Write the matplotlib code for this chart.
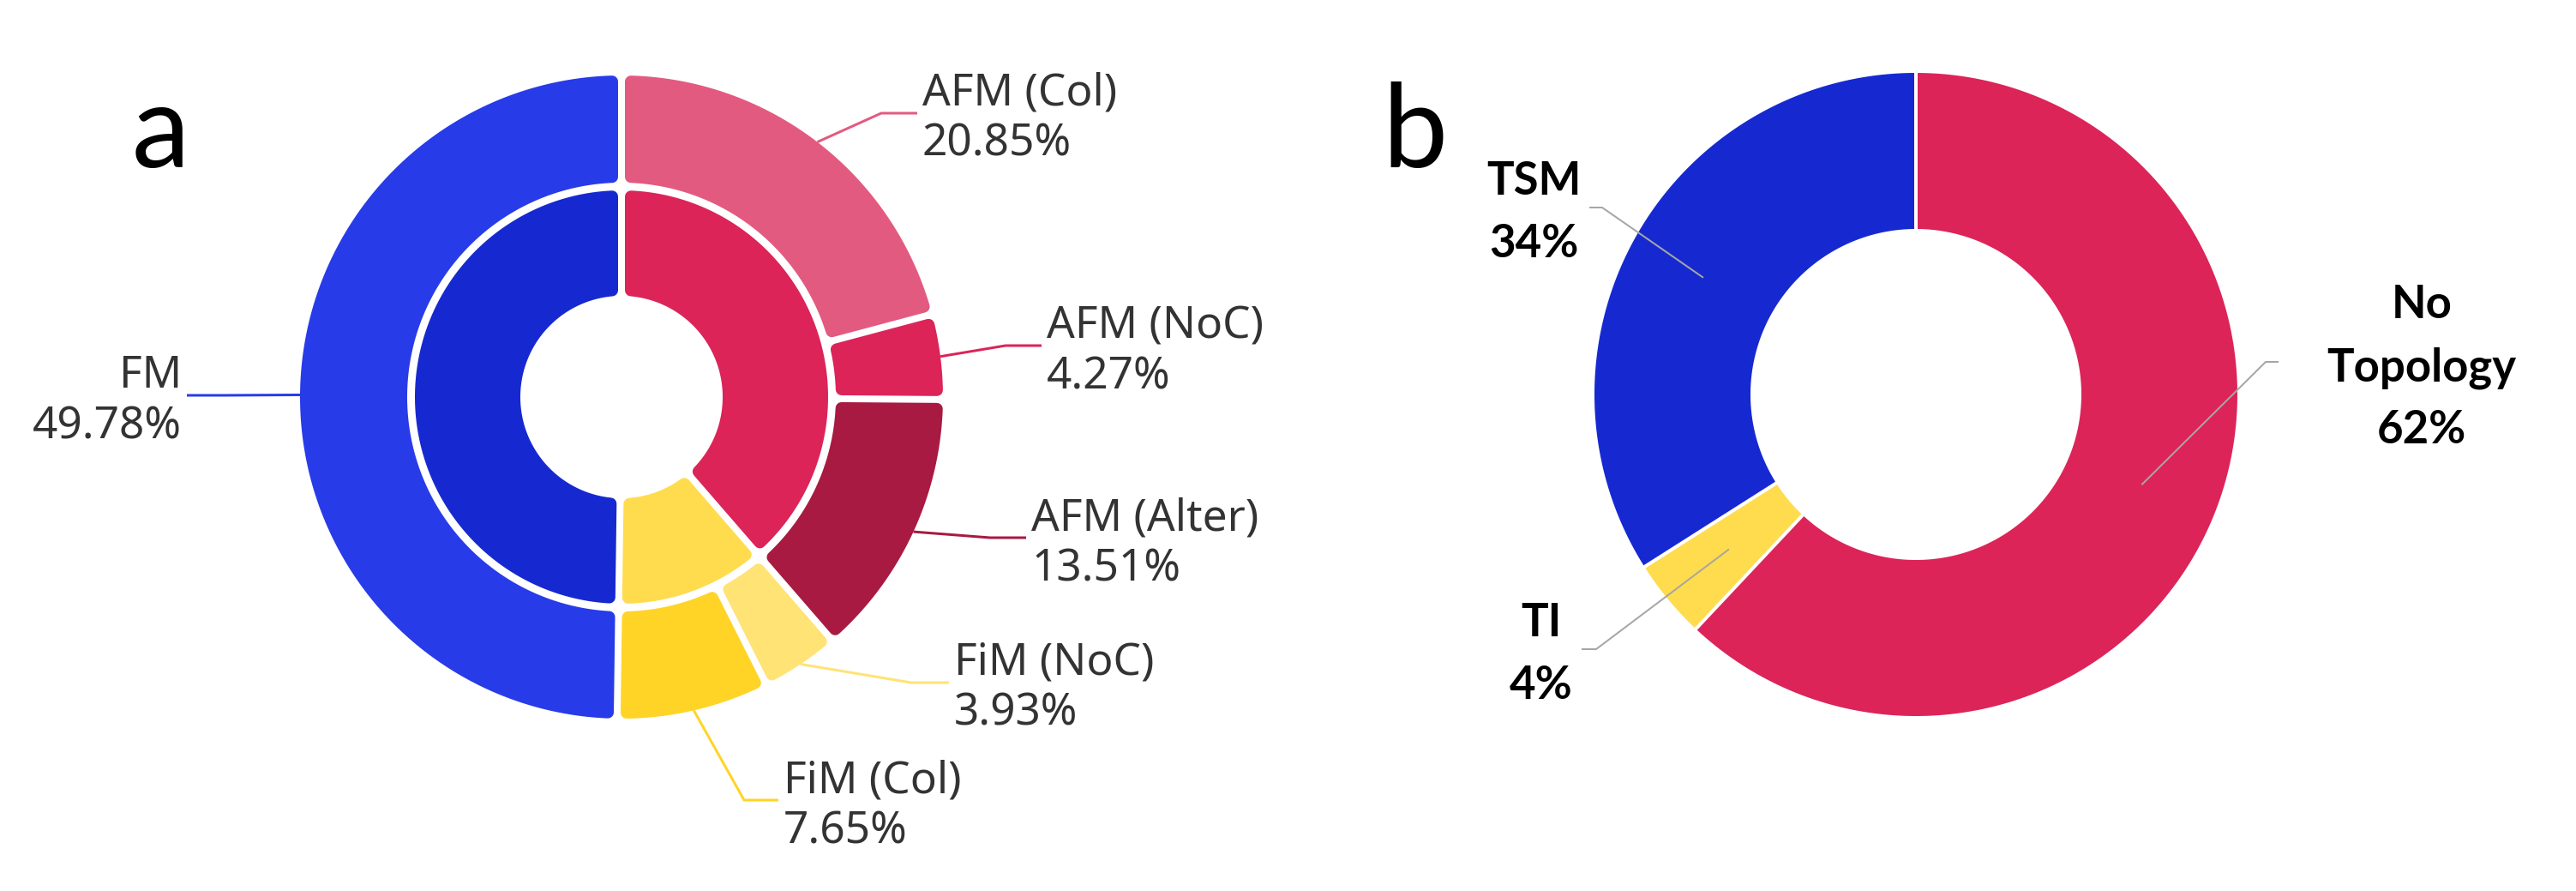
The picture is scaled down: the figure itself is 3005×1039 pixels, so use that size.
#!/usr/bin/env python3
"""
Two donut charts: (a) magnetic ordering split into sub-types,
(b) share of topological materials.
"""

import numpy as np
import matplotlib.pyplot as plt
from matplotlib.patches import Polygon

DPI = 100
PX = 72 / DPI  # one pixel in points

# ---- panel a data: outer ring = sub-types, inner ring = families ----
outer_labels = ['AFM (Col)', 'AFM (NoC)', 'AFM (Alter)', 'FiM (NoC)', 'FiM (Col)', 'FM']
outer_values = [20.85, 4.27, 13.51, 3.93, 7.65, 49.78]
outer_colors = ['#E35A80', '#DC2459', '#A81A42', '#FFE375', '#FFD426', '#283BE9']

inner_groups = [[0, 1, 2], [3, 4], [5]]  # AFM, FiM, FM
inner_colors = ['#DC2459', '#FFDC4E', '#1629D1']

# ---- panel b data ----
topo_labels = ['No\nTopology', 'TI', 'TSM']
topo_values = [62, 4, 34]
topo_colors = ['#DC2459', '#FFDC4E', '#1629D1']

# ---- layout (pixels) ----
A_CENTER = (725, 463)
B_CENTER = (2235, 460)

# label leaders for panel a: (elbow, end of line), text side
A_LEADERS = [
    ((1028, 132), (1070, 132), 'right'),
    ((1173, 403), (1215, 403), 'right'),
    ((1155, 627), (1197, 627), 'right'),
    ((1063, 796), (1107, 796), 'right'),
    ((868, 933), (908, 933), 'right'),
    ((260, 461), (218, 461), 'left'),
]

# label positions for panel b: (elbow, end, text centre x, first baseline)
B_LABELS = [
    ((2643, 422), (2657, 422), 2825, 371),
    ((1862, 757), (1846, 757), 1798, 742),
    ((1869, 242), (1855, 242), 1789, 227),
]


def ring_segment(ax, center, r_in, r_out, a1, a2, color, gap, rc):
    """Ring segment from angle a1 to a2 (deg, clockwise from top) with rounded corners."""
    cx, cy = center
    d = gap / 2 + rc
    ro, ri = r_out - rc, r_in + rc
    t_out = np.linspace(a1 + np.degrees(np.arcsin(d / ro)), a2 - np.degrees(np.arcsin(d / ro)), 200)
    t_in = np.linspace(a2 - np.degrees(np.arcsin(d / ri)), a1 + np.degrees(np.arcsin(d / ri)), 200)
    t = np.radians(np.concatenate([t_out, t_in]))
    r = np.concatenate([np.full(200, ro), np.full(200, ri)])
    xy = np.column_stack([cx + r * np.sin(t), cy - r * np.cos(t)])
    if rc > 0:
        patch = Polygon(xy, closed=True, facecolor=color, edgecolor=color,
                        lw=2 * rc * PX, joinstyle='round')
    else:
        patch = Polygon(xy, closed=True, facecolor=color, edgecolor='none')
    ax.add_patch(patch)


def angle_edges(values):
    edges = np.concatenate([[0], np.cumsum(values)])
    return 360 * edges / edges[-1]


def polar_point(center, r, ang):
    cx, cy = center
    a = np.radians(ang)
    return cx + r * np.sin(a), cy - r * np.cos(a)


def draw_panel_a(ax):
    edges = angle_edges(outer_values)
    for i, color in enumerate(outer_colors):
        ring_segment(ax, A_CENTER, 250, 375, edges[i], edges[i + 1], color, gap=8, rc=7)

    inner_values = [sum(outer_values[j] for j in g) for g in inner_groups]
    iedges = angle_edges(inner_values)
    for i, color in enumerate(inner_colors):
        ring_segment(ax, A_CENTER, 118, 241, iedges[i], iedges[i + 1], color, gap=8, rc=7)

    # leader lines and labels
    for i, (lab, val) in enumerate(zip(outer_labels, outer_values)):
        mid = (edges[i] + edges[i + 1]) / 2
        sx, sy = polar_point(A_CENTER, 375, mid)
        (ex, ey), (tx, ty), side = A_LEADERS[i]
        ax.plot([sx, ex, tx], [sy, ey, ty], color=outer_colors[i], lw=3 * PX,
                solid_capstyle='butt')
        if side == 'right':
            x, ha = tx + 6, 'left'
        else:
            x, ha = tx - 6, 'right'
        for k, s in enumerate([lab, f'{val:.2f}%']):
            ax.text(x, ty - 9 + 59 * k, s, ha=ha, va='baseline', fontsize=37,
                    family='Noto Sans', color='#333333')

    ax.text(187, 195, 'a', ha='center', va='baseline', fontsize=98, family='Lato', color='black')


def draw_panel_b(ax):
    edges = angle_edges(topo_values)
    for i, color in enumerate(topo_colors):
        ring_segment(ax, B_CENTER, 193, 375, edges[i], edges[i + 1], color, gap=4, rc=0)

    for i, (lab, val) in enumerate(zip(topo_labels, topo_values)):
        mid = (edges[i] + edges[i + 1]) / 2
        sx, sy = polar_point(B_CENTER, 284, mid)
        (ex, ey), (tx, ty), cx, base = B_LABELS[i]
        ax.plot([sx, ex, tx], [sy, ey, ty], color='#A6A6A6', lw=2 * PX)
        lines = lab.split('\n') + [f'{val}%']
        for k, s in enumerate(lines):
            ax.text(cx, base + 73 * k, s, ha='center', va='baseline', fontsize=38,
                    family='Lato', fontweight='bold', color='black')

    ax.text(1650, 195, 'b', ha='center', va='baseline', fontsize=98, family='Lato', color='black')


def main():
    fig = plt.figure(figsize=(30.05, 10.39), dpi=DPI)
    ax = fig.add_axes([0, 0, 1, 1])
    ax.set_xlim(0, 3005)
    ax.set_ylim(1039, 0)
    ax.axis('off')

    draw_panel_a(ax)
    draw_panel_b(ax)

    fig.savefig('out.png', dpi=DPI, facecolor='white')
    plt.close(fig)


if __name__ == '__main__':
    main()
